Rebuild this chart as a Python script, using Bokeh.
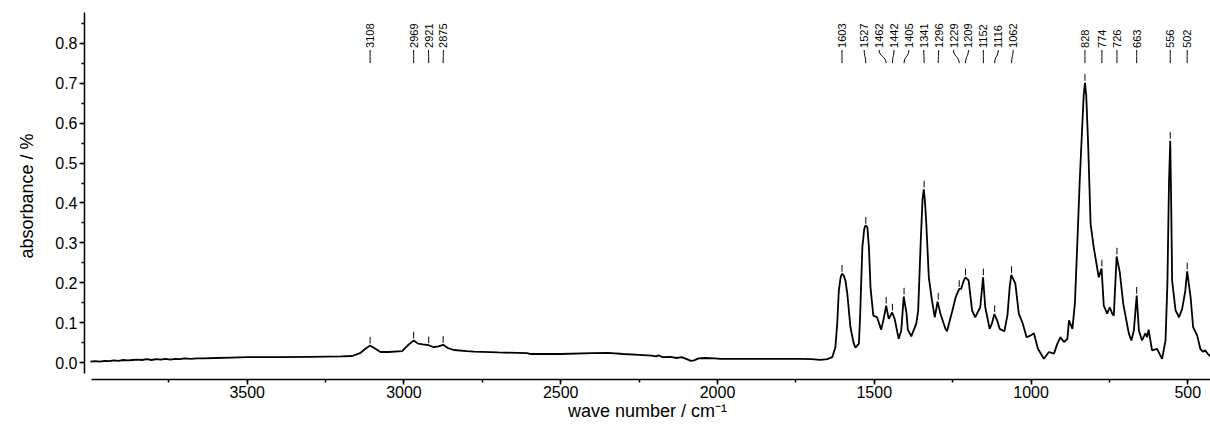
import math
from bokeh.plotting import figure
from bokeh.models import Range1d, SingleIntervalTicker, PrintfTickFormatter, ColumnDataSource
from bokeh.core.properties import value
from bokeh.embed import file_html
from bokeh.resources import INLINE

# ---------------- data ----------------
wave_number = [
    4000, 3985, 3970, 3955, 3940, 3925, 3910, 3895, 3880, 3865, 3850, 3835, 3820, 3805,
    3790, 3775, 3760, 3745, 3730, 3715, 3700, 3680, 3660, 3640, 3600, 3550, 3500, 3400,
    3300, 3200, 3165, 3140, 3125, 3108, 3092, 3075, 3050, 3006, 2990, 2969, 2955, 2940,
    2921, 2905, 2890, 2875, 2860, 2841, 2800, 2777, 2700, 2607, 2596, 2500, 2400, 2350,
    2300, 2250, 2210, 2195, 2188, 2175, 2150, 2130, 2115, 2100, 2085, 2075, 2060, 2040,
    2010, 1990, 1900, 1800, 1735, 1700, 1671, 1650, 1634, 1624, 1618, 1613, 1607, 1603,
    1597, 1592, 1586, 1576, 1566, 1560, 1549, 1545, 1538, 1532, 1528, 1522, 1517, 1512,
    1503, 1491, 1478, 1470, 1462, 1454, 1443, 1435, 1422, 1414, 1406, 1397, 1393, 1382,
    1366, 1360, 1352, 1346, 1342, 1338, 1334, 1326, 1316, 1307, 1298, 1289, 1273, 1268,
    1252, 1240, 1229, 1223, 1215, 1209, 1199, 1188, 1178, 1162, 1157, 1153, 1146, 1132,
    1124, 1117, 1108, 1100, 1085, 1075, 1068, 1063, 1050, 1039, 1028, 1014, 1002, 991,
    978, 959, 943, 927, 916, 906, 895, 884, 879, 868, 860, 852, 845, 838, 832, 828,
    824, 818, 810, 800, 784, 775, 768, 757, 749, 741, 736, 727, 717, 706, 688, 680,
    672, 663, 656, 646, 635, 630, 625, 614, 598, 582, 571, 565, 560, 556, 553, 550,
    539, 528, 518, 508, 502, 491, 483, 470, 460, 452, 444, 436, 428,
]
absorbance = [
    0.003, 0.004, 0.003, 0.005, 0.004, 0.006, 0.005, 0.007, 0.006, 0.007, 0.008, 0.007, 0.009, 0.007,
    0.009, 0.008, 0.010, 0.008, 0.010, 0.009, 0.011, 0.010, 0.011, 0.011, 0.012, 0.013, 0.014, 0.014,
    0.015, 0.016, 0.017, 0.024, 0.034, 0.043, 0.036, 0.027, 0.027, 0.029, 0.042, 0.056, 0.048, 0.046,
    0.044, 0.039, 0.041, 0.045, 0.037, 0.032, 0.029, 0.028, 0.026, 0.024, 0.022, 0.022, 0.024, 0.025,
    0.022, 0.020, 0.018, 0.016, 0.019, 0.014, 0.015, 0.012, 0.014, 0.010, 0.005, 0.006, 0.011, 0.012,
    0.011, 0.010, 0.010, 0.010, 0.010, 0.009, 0.0075, 0.009, 0.014, 0.039, 0.100, 0.181, 0.215, 0.223,
    0.218, 0.206, 0.173, 0.089, 0.050, 0.038, 0.048, 0.120, 0.289, 0.335, 0.344, 0.339, 0.289, 0.189,
    0.118, 0.114, 0.083, 0.110, 0.143, 0.110, 0.126, 0.110, 0.060, 0.080, 0.166, 0.123, 0.083, 0.066,
    0.098, 0.130, 0.300, 0.410, 0.434, 0.400, 0.348, 0.214, 0.156, 0.114, 0.153, 0.123, 0.085, 0.079,
    0.127, 0.165, 0.185, 0.185, 0.205, 0.214, 0.206, 0.131, 0.114, 0.139, 0.180, 0.214, 0.139, 0.085,
    0.100, 0.122, 0.106, 0.085, 0.079, 0.120, 0.190, 0.220, 0.198, 0.123, 0.102, 0.064, 0.068, 0.074,
    0.035, 0.010, 0.027, 0.023, 0.048, 0.064, 0.052, 0.060, 0.106, 0.085, 0.150, 0.306, 0.450, 0.570, 0.670, 0.701,
    0.670, 0.550, 0.348, 0.289, 0.214, 0.236, 0.143, 0.123, 0.139, 0.123, 0.118, 0.266, 0.227, 0.148, 0.073, 0.056,
    0.081, 0.168, 0.081, 0.056, 0.074, 0.064, 0.083, 0.031, 0.035, 0.010, 0.056, 0.200, 0.450, 0.556, 0.400, 0.206,
    0.131, 0.114, 0.135, 0.180, 0.229, 0.164, 0.089, 0.068, 0.035, 0.028, 0.031, 0.022, 0.016,
]

peak_wn = [3108, 2969, 2921, 2875, 1603, 1527, 1462, 1442, 1405, 1341, 1296, 1229,
           1209, 1152, 1116, 1062, 828, 774, 726, 663, 556, 502]
peak_abs = [0.043, 0.056, 0.044, 0.045, 0.223, 0.343, 0.143, 0.126, 0.166, 0.434, 0.153, 0.185,
            0.214, 0.214, 0.122, 0.220, 0.701, 0.236, 0.266, 0.168, 0.556, 0.229]
peak_text = [str(w) for w in peak_wn]

x_ticks_interval = 500
y_ticks_interval = 0.1


# ---------------- label layout (1-D de-overlap) ----------------
def spread(pos, gap):
    def layout(cl):
        c = sum(pos[i] for i in cl) / len(cl)
        m = len(cl)
        return [c + ((m - 1) / 2 - k) * gap for k in range(m)]
    clusters = [[i] for i in range(len(pos))]
    changed = True
    while changed:
        changed = False
        res = []
        for cl in clusters:
            res.append(cl)
            while len(res) > 1:
                a, b = res[-2], res[-1]
                if layout(a)[-1] - layout(b)[0] < gap - 1e-9:
                    res[-2:] = [a + b]
                    changed = True
                else:
                    break
        clusters = res
    out = []
    for cl in clusters:
        out += layout(cl)
    return out


label_x = spread(peak_wn, 47.5)
y_lead_bot = 0.750
y_lead_top = 0.783
y_lead_mid = (y_lead_bot + y_lead_top) / 2
y_text = 0.788

lab = ColumnDataSource(dict(
    px=peak_wn, lx=label_x, txt=peak_text,
    yb=[y_lead_bot] * len(peak_wn), yt=[y_lead_top] * len(peak_wn),
    ym=[y_lead_mid] * len(peak_wn), ytx=[y_text] * len(peak_wn),
    m0=[a + 0.005 for a in peak_abs], m1=[a + 0.0218 for a in peak_abs],
))

FONT = "Liberation Sans"

p = figure(width=1210, height=428, output_backend="svg", toolbar_location=None,
           x_range=Range1d(4018.9, 427.6), y_range=Range1d(-0.0418, 0.8768),
           min_border_left=84, min_border_right=0, min_border_top=12, min_border_bottom=49)
p.outline_line_color = None
p.xgrid.visible = False
p.ygrid.visible = False
p.background_fill_color = "white"
p.border_fill_color = "white"

# spectrum
p.line(wave_number, absorbance, line_color="black", line_width=1.8)

# peak markers
p.segment(x0="px", y0="m0", x1="px", y1="m1", source=lab, line_color="black", line_width=1)
# leaders
p.bezier(x0="px", y0="yb", x1="lx", y1="yt", cx0="px", cy0="ym", cx1="lx", cy1="ym",
         source=lab, line_color="black", line_width=1)
# labels
p.text(x="lx", y="ytx", text="txt", source=lab, angle=math.pi / 2, text_align="left",
       text_baseline="middle", text_font=value(FONT), text_font_size="11px", text_color="black")

# axes
p.xaxis.ticker = SingleIntervalTicker(interval=x_ticks_interval, num_minor_ticks=2)
p.yaxis.ticker = SingleIntervalTicker(interval=y_ticks_interval, num_minor_ticks=2)
p.yaxis.formatter = PrintfTickFormatter(format="%.1f")
p.xaxis.bounds = (427.6, 3998)
p.yaxis.bounds = (-0.0275, 0.876)
p.xaxis.axis_label = "wave number / cm\u207b\u00b9"
p.yaxis.axis_label = "absorbance / %"
for ax in (p.xaxis, p.yaxis):
    ax.axis_line_color = "black"
    ax.axis_line_width = 1.5
    ax.major_tick_line_color = "black"
    ax.minor_tick_line_color = "black"
    ax.major_tick_line_width = 1.5
    ax.minor_tick_line_width = 1.5
    ax.major_tick_out = 5
    ax.major_tick_in = 0
    ax.minor_tick_out = 3
    ax.minor_tick_in = 0
    ax.major_label_text_font = FONT
    ax.major_label_text_font_size = "16px"
    ax.major_label_text_color = "black"
    ax.axis_label_text_font = FONT
    ax.axis_label_text_font_size = "18px"
    ax.axis_label_text_font_style = "normal"
    ax.axis_label_text_color = "black"
p.yaxis.major_label_standoff = 2
p.yaxis.axis_label_standoff = 15
p.xaxis.major_label_standoff = 1
p.xaxis.axis_label_standoff = 0

open("out.html", "w").write(file_html(p, INLINE))
